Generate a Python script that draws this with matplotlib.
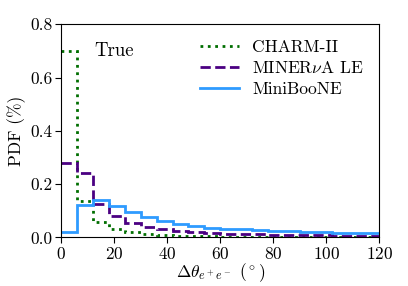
import numpy as np
import matplotlib
matplotlib.use('Agg')
import matplotlib.pyplot as plt

plt.rcParams['font.family'] = 'serif'
plt.rcParams['font.serif'] = ['cmr10']
plt.rcParams['mathtext.fontset'] = 'cm'
plt.rcParams['axes.formatter.use_mathtext'] = True
plt.rcParams['font.size'] = 12.5

# bin edges in degrees (6 deg bins)
edges = np.arange(0, 121, 6)

# PDF values per bin
charm = [0.700, 0.138, 0.058, 0.031, 0.020, 0.013, 0.008, 0.006, 0.005, 0.004,
         0.003, 0.003, 0.002, 0.002, 0.002, 0.001, 0.001, 0.001, 0.001, 0.001]
minerva = [0.279, 0.240, 0.126, 0.079, 0.055, 0.040, 0.030, 0.024, 0.019, 0.016,
           0.014, 0.012, 0.011, 0.010, 0.009, 0.008, 0.008, 0.007, 0.007, 0.006]
miniboone = [0.020, 0.122, 0.142, 0.117, 0.094, 0.075, 0.063, 0.052, 0.044, 0.037,
             0.033, 0.030, 0.027, 0.025, 0.023, 0.021, 0.020, 0.018, 0.017, 0.016]

fig, ax = plt.subplots(figsize=(4.08, 2.86), dpi=100)
fig.subplots_adjust(left=0.15, right=0.93, top=0.915, bottom=0.17)

ax.stairs(charm, edges, baseline=None, color='#006e00', ls=':', lw=2, label='CHARM-II')
ax.stairs(minerva, edges, baseline=None, color='#4b0082', ls='--', lw=2, label=r'MINER$\nu$A LE')
ax.stairs(miniboone, edges, baseline=None, color='#2e9bff', ls='-', lw=2, label='MiniBooNE')

ax.set_xlim(0, 120)
ax.set_ylim(0, 0.8)
ax.set_xticks(np.arange(0, 121, 20))
ax.set_yticks([0.0, 0.2, 0.4, 0.6, 0.8])
ax.set_yticklabels(['0.0', '0.2', '0.4', '0.6', '0.8'])
ax.tick_params(length=4, pad=2)
ax.set_xlabel(r'$\Delta\theta_{e^+e^-}$ ($^\circ$)', labelpad=0)
ax.set_ylabel('PDF (%)', labelpad=3)

ax.text(0.105, 0.875, 'True', transform=ax.transAxes, fontsize=13.5, va='center')
ax.legend(loc='upper right', frameon=False, handlelength=2.2, fontsize=12.5,
          borderaxespad=0.5, labelspacing=0.3)

plt.savefig('out.png', dpi=100)
